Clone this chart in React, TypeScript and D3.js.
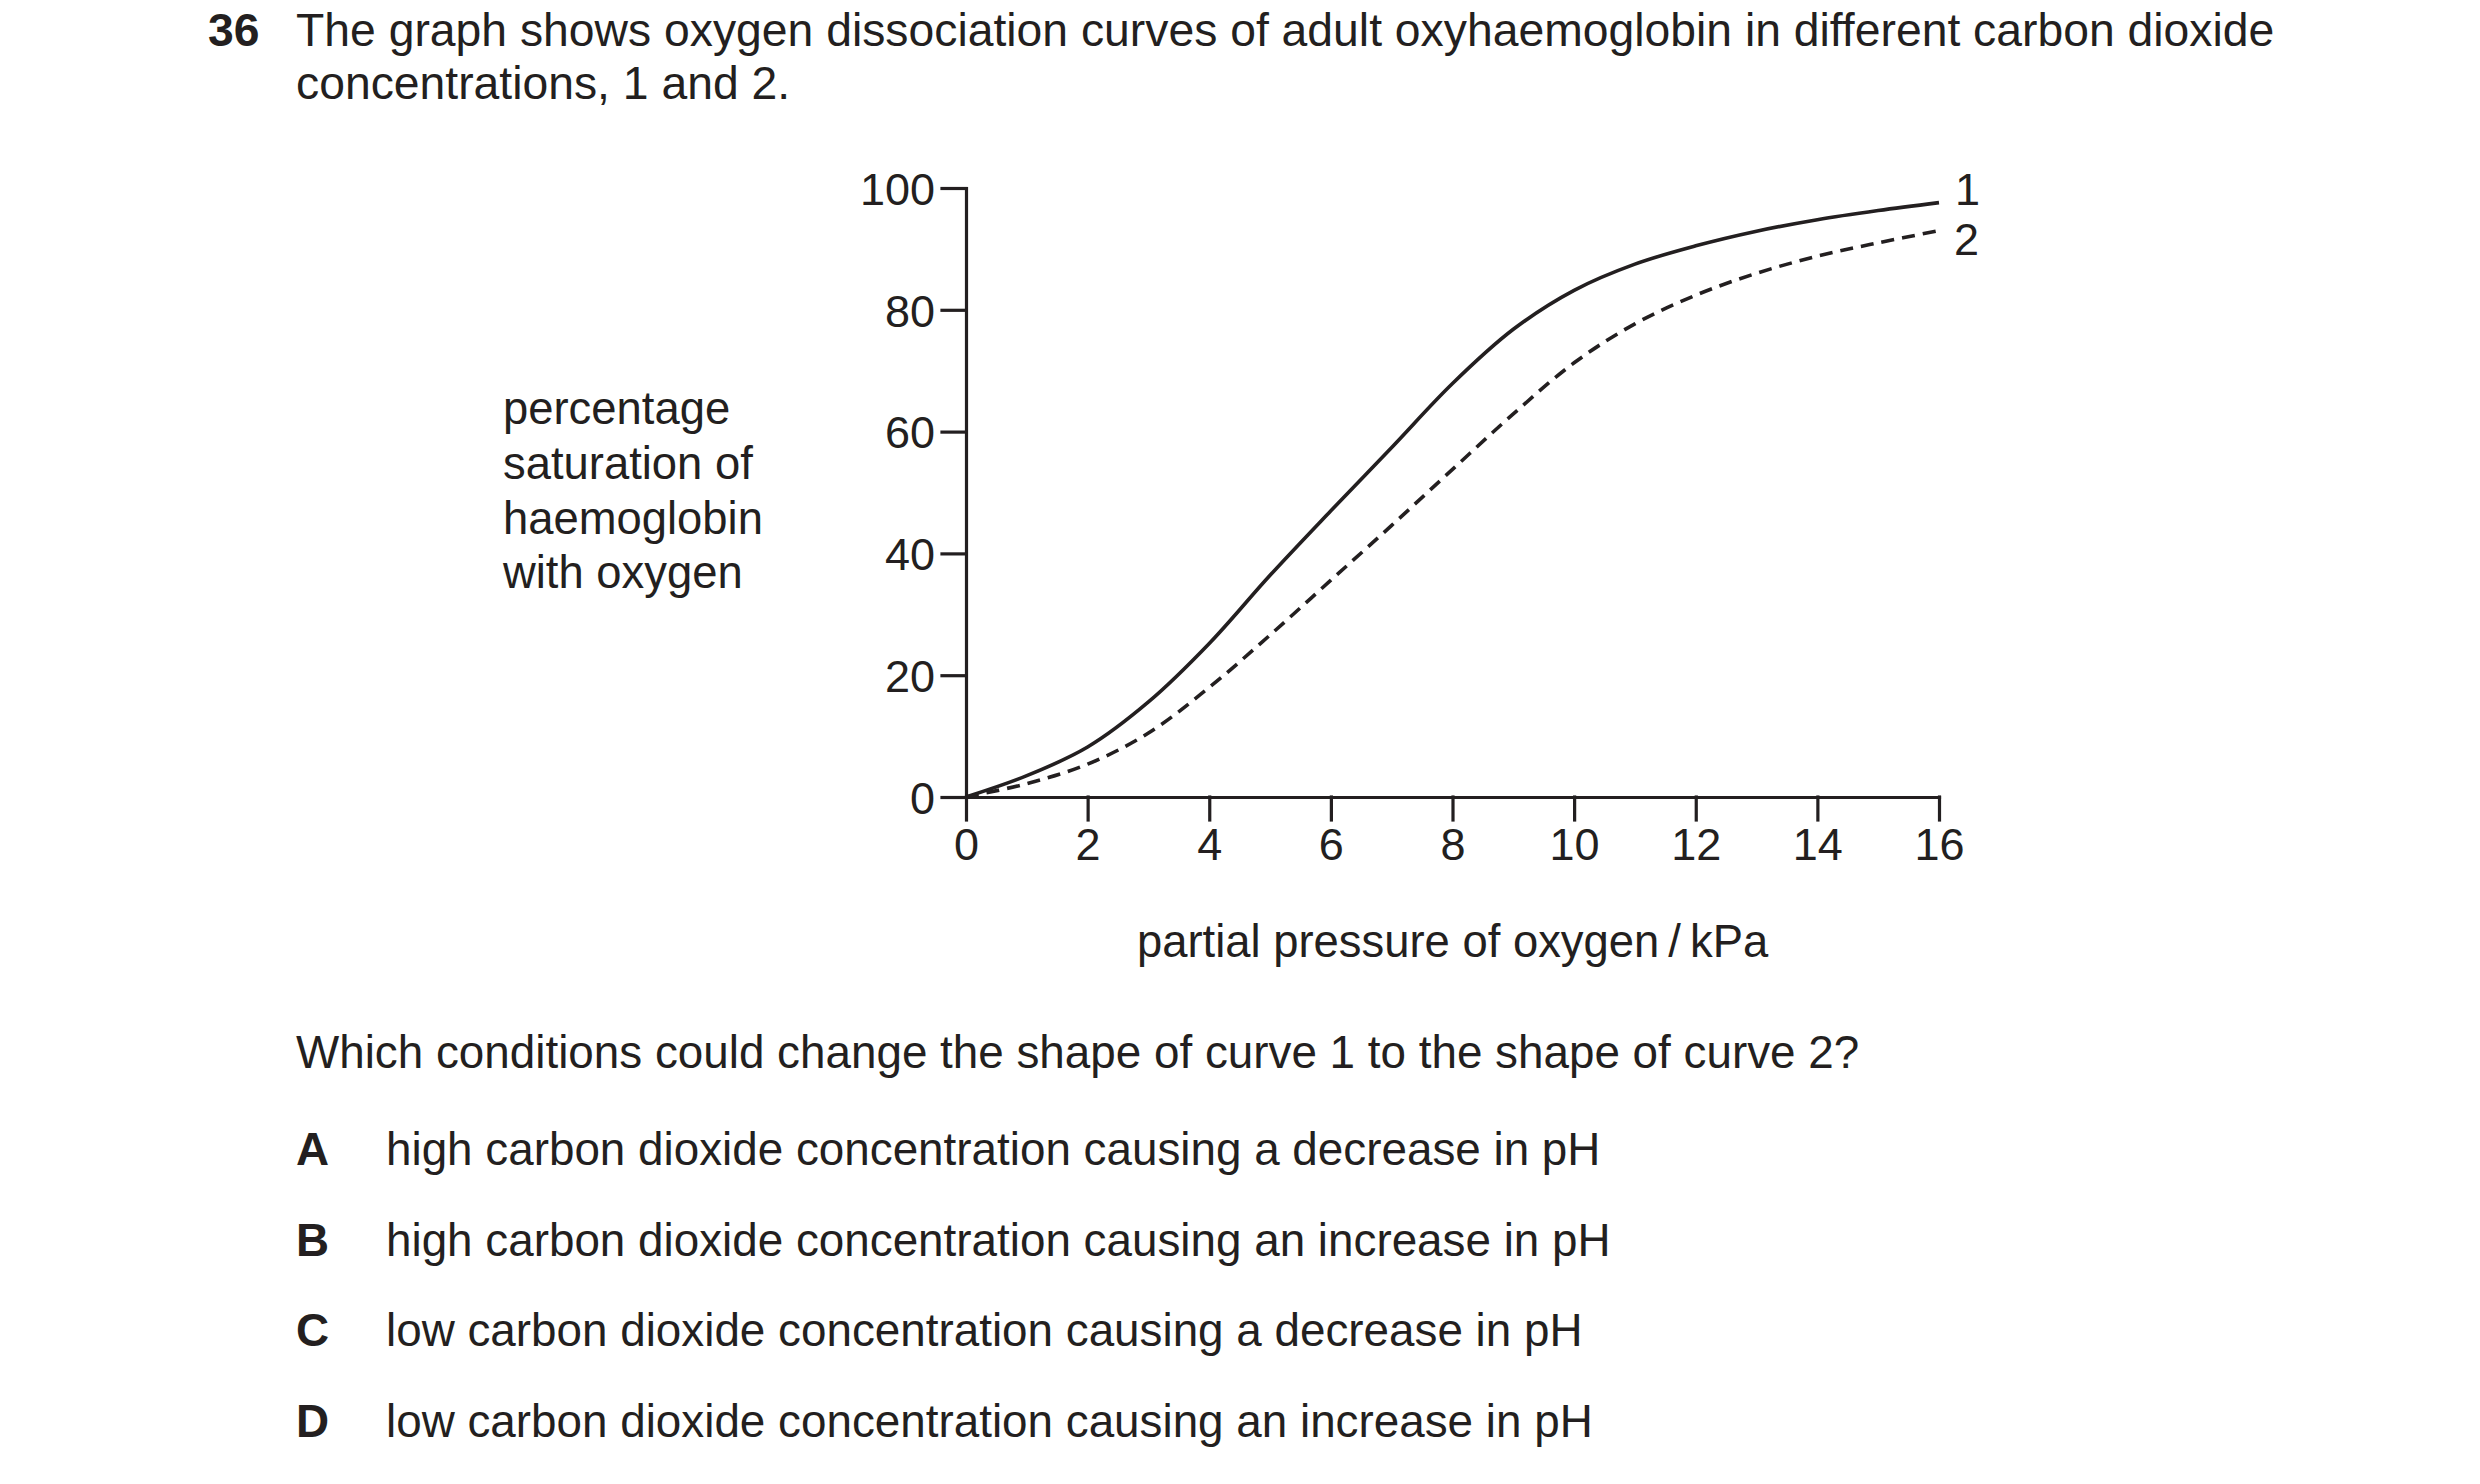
import React, { useEffect, useRef } from 'react';
import * as d3 from 'd3';

// partial pressure of oxygen / kPa
const pressures = [0, 1, 2, 3, 4, 5, 6, 7, 8, 9, 10, 11, 12, 13, 14, 15, 16];
// curve 1 (solid) percentage saturation
const curve1 = [0, 3.5, 8.2, 15.6, 25.2, 36.4, 47.0, 57.4, 67.9, 76.8, 83.2, 87.5, 90.5, 92.9, 94.8, 96.3, 97.6];
// curve 2 (dashed) percentage saturation
const curve2 = [0, 2.2, 5.4, 10.5, 18.0, 26.6, 35.6, 44.6, 53.8, 62.9, 71.3, 77.7, 82.4, 86.0, 88.8, 91.0, 93.0];

const xTicks = [0, 2, 4, 6, 8, 10, 12, 14, 16];
const yTicks = [0, 20, 40, 60, 80, 100];

const yLabelLines = ['percentage', 'saturation of', 'haemoglobin', 'with oxygen'];
const options = [
  { letter: 'A', text: 'high carbon dioxide concentration causing a decrease in pH' },
  { letter: 'B', text: 'high carbon dioxide concentration causing an increase in pH' },
  { letter: 'C', text: 'low carbon dioxide concentration causing a decrease in pH' },
  { letter: 'D', text: 'low carbon dioxide concentration causing an increase in pH' },
];

const FONT = '"Liberation Sans", Arial, Helvetica, sans-serif';
const INK = '#231f20';

const App: React.FC = () => {
  const svgRef = useRef<SVGSVGElement | null>(null);

  useEffect(() => {
    const svg = d3.select(svgRef.current);
    svg.selectAll('*').remove();
    const width = 2480;
    const height = 1484;
    const plot = { left: 966, right: 1939, top: 188, bottom: 797 };

    svg.attr('width', width).attr('height', height);

    const x = d3.scaleLinear().domain([0, 16]).range([plot.left, plot.right]);
    const y = d3.scaleLinear().domain([0, 100]).range([plot.bottom, plot.top]);

    // Question header
    const header = svg.append('g').attr('font-family', FONT).attr('fill', INK).attr('font-size', 46.3);
    header.append('text').attr('x', 208).attr('y', 46).attr('font-weight', 'bold').text('36');
    header.append('text').attr('x', 296).attr('y', 46)
      .text('The graph shows oxygen dissociation curves of adult oxyhaemoglobin in different carbon dioxide');
    header.append('text').attr('x', 296).attr('y', 99).text('concentrations, 1 and 2.');

    // Y axis
    const yAxis = svg.append('g')
      .attr('transform', `translate(${plot.left},0)`)
      .call(d3.axisLeft(y).tickValues(yTicks).tickSize(24).tickSizeOuter(0).tickPadding(7));

    // X axis
    const xAxis = svg.append('g')
      .attr('transform', `translate(0,${plot.bottom})`)
      .call(d3.axisBottom(x).tickValues(xTicks).tickSize(23).tickSizeOuter(0).tickPadding(8));

    [yAxis, xAxis].forEach(ax => {
      ax.attr('font-family', FONT).attr('font-size', 45);
      ax.selectAll('path, line').attr('stroke', INK).attr('stroke-width', 3.2).attr('stroke-linecap', 'square');
      ax.selectAll('text').attr('fill', INK);
    });
    yAxis.selectAll('text').attr('dy', '0.36em');

    // Curves
    const line = d3.line<number>()
      .x((d, i) => x(pressures[i]))
      .y(d => y(d))
      .curve(d3.curveCatmullRom.alpha(0.5));

    svg.append('path')
      .datum(curve1)
      .attr('d', line)
      .attr('fill', 'none')
      .attr('stroke', INK)
      .attr('stroke-width', 3.6);

    svg.append('path')
      .datum(curve2)
      .attr('d', line)
      .attr('fill', 'none')
      .attr('stroke', INK)
      .attr('stroke-width', 3.6)
      .attr('stroke-dasharray', '13,8');

    // Curve labels
    const last = pressures.length - 1;
    svg.append('text')
      .attr('x', x(pressures[last]) + 16)
      .attr('y', y(curve1[last]) + 2)
      .attr('font-family', FONT).attr('font-size', 45).attr('fill', INK)
      .text('1');
    svg.append('text')
      .attr('x', x(pressures[last]) + 15)
      .attr('y', y(curve2[last]) + 24)
      .attr('font-family', FONT).attr('font-size', 45).attr('fill', INK)
      .text('2');

    // Y axis label
    svg.append('g')
      .attr('font-family', FONT).attr('font-size', 45.4).attr('fill', INK)
      .selectAll('text')
      .data(yLabelLines)
      .enter()
      .append('text')
      .attr('x', 503)
      .attr('y', (d, i) => 424 + i * 54.8)
      .text(d => d);

    // X axis label
    svg.append('text')
      .attr('x', 1137)
      .attr('y', 957)
      .attr('font-family', FONT).attr('font-size', 45.4).attr('fill', INK)
      .text('partial pressure of oxygen\u2009/\u2009kPa');

    // Question and options
    const q = svg.append('g').attr('font-family', FONT).attr('font-size', 45.8).attr('fill', INK);
    q.append('text').attr('x', 296).attr('y', 1068)
      .text('Which conditions could change the shape of curve 1 to the shape of curve 2?');
    options.forEach((o, i) => {
      const yy = 1165 + i * 90.5;
      q.append('text').attr('x', 296).attr('y', yy).attr('font-weight', 'bold').text(o.letter);
      q.append('text').attr('x', 386).attr('y', yy).text(o.text);
    });
  }, []);

  return (
    <>
      <svg ref={svgRef} style={{ position: 'absolute', left: 0, top: 0, background: '#fff' }}></svg>
    </>
  );
};

export default App;
